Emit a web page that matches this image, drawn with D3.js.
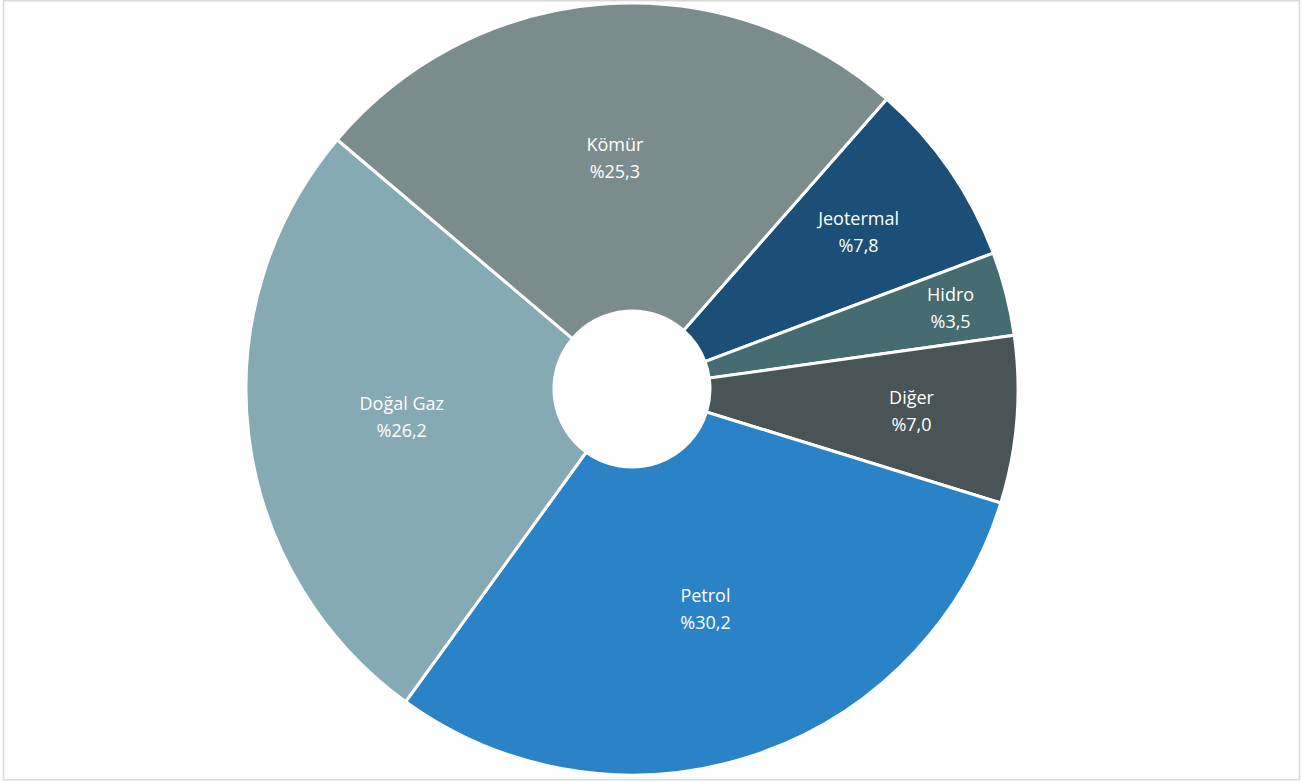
<!DOCTYPE html>
<html>
<head>
<meta charset="utf-8">
<script src="https://cdn.jsdelivr.net/npm/d3@7"></script>
<style>
  html, body { margin: 0; padding: 0; background: #fff; }
  svg { display: block; }
</style>
</head>
<body>
<svg id="chart" width="1303" height="782"></svg>
<script>
// Energy source shares (%)
const categories = ["Jeotermal", "Hidro", "Diğer", "Petrol", "Doğal Gaz", "Kömür"];
const shares = [7.8, 3.5, 7.0, 30.2, 26.2, 25.3];
const colors = ["#1B4F78", "#466C72", "#495457", "#2A83C7", "#86AAB4", "#7B8C8D"];

const W = 1303, H = 782;
const cx = 632, cy = 389;
const rOuter = 386, rInner = 78;
const startAngle = 41.3 * Math.PI / 180;

const svg = d3.select("#chart");

// outer frame
svg.append("rect")
  .attr("x", 3.5).attr("y", 0.75)
  .attr("width", 1296).attr("height", 779)
  .attr("fill", "#fff")
  .attr("stroke", "#D9D9D9").attr("stroke-width", 1.5);

const data = categories.map((c, i) => ({ name: c, value: shares[i], color: colors[i] }));

const pie = d3.pie()
  .value(d => d.value)
  .sort(null)
  .startAngle(startAngle)
  .endAngle(startAngle + 2 * Math.PI);

const arcs = pie(data);
const arc = d3.arc().innerRadius(rInner).outerRadius(rOuter);

const g = svg.append("g").attr("transform", `translate(${cx},${cy})`);

g.selectAll("path.slice")
  .data(arcs)
  .join("path")
  .attr("class", "slice")
  .attr("d", arc)
  .attr("fill", d => d.data.color)
  .attr("stroke", "#fff")
  .attr("stroke-width", 3)
  .attr("stroke-linejoin", "miter");

// labels: placed at mid radius, pushed outward for narrow slices
const total = d3.sum(shares);
const rMid = (rInner + rOuter) / 2;
const fmt = v => "%" + v.toFixed(1).replace(".", ",");

const labels = g.selectAll("g.label")
  .data(arcs)
  .join("g")
  .attr("class", "label")
  .attr("transform", d => {
    const p = d.data.value / total;
    const f = p < 0.15 ? Math.min(1, 0.022 / p) : 0;
    const r = rMid + (rOuter - rMid) * f;
    const a = (d.startAngle + d.endAngle) / 2;
    return `translate(${r * Math.sin(a)},${-r * Math.cos(a)})`;
  });

labels.append("text")
  .attr("text-anchor", "middle")
  .attr("font-family", "'Open Sans', sans-serif")
  .attr("font-size", 18)
  .attr("fill", "#fff")
  .selectAll("tspan")
  .data(d => [d.data.name, fmt(d.data.value)])
  .join("tspan")
  .attr("x", 0)
  .attr("y", (t, i) => i === 0 ? -7 : 20)
  .text(t => t);
</script>
</body>
</html>
